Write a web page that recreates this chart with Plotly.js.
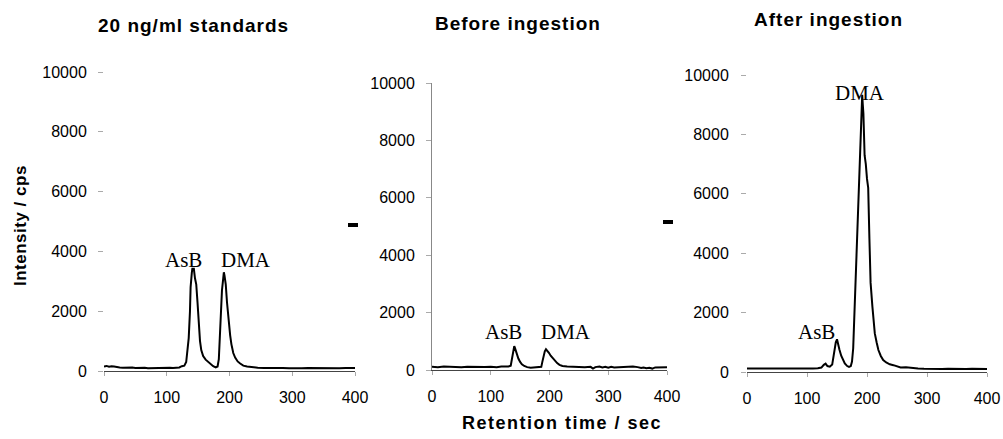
<!DOCTYPE html>
<html>
<head>
<meta charset="utf-8">
<script src="https://cdn.plot.ly/plotly-3.0.1.min.js"></script>
<style>
html,body{margin:0;padding:0;background:#fff;}
#chart{width:1003px;height:439px;}
</style>
</head>
<body>
<div id="chart"></div>
<script>
// Panel titles and labels
const panelTitles = ["20 ng/ml standards", "Before ingestion", "After ingestion"];
const yTitle = "Intensity / cps";
const xTitle = "Retention time / sec";
const xTickVals = [0, 100, 200, 300, 400];
const yTickVals = [0, 2000, 4000, 6000, 8000, 10000];

// Panel 1: 20 ng/ml standards
const time1 = [0,4,8,12,16,20,25,30,35,40,45,50,55,60,65,70,75,80,85,90,95,100,105,110,115,120,124,128,131,133,135,137,138,140,141,142,143,145,147,149,151,153,155,158,162,166,170,174,178,181,183,184,186,188,190,191,192,194,196,198,201,203,206,209,213,217,222,228,235,245,255,265,275,285,295,305,315,325,335,345,355,365,375,385,395,400];
const cps1 = [150,170,140,160,150,130,120,110,115,105,120,100,110,100,105,95,100,105,95,100,100,105,110,100,115,120,160,180,300,800,1100,2000,2800,3300,3450,3350,3450,3100,2900,2300,1600,1000,700,500,380,300,230,160,120,150,400,1000,1800,2700,3100,3300,3200,2900,2300,1800,1200,900,600,450,320,250,180,150,130,110,100,105,95,100,90,105,95,100,95,105,95,100,90,100,95,100];

// Panel 2: before ingestion
const time2 = [0,10,20,30,40,50,60,70,80,90,100,110,118,125,130,134,136,138,140,141,143,145,147,150,153,157,162,168,175,182,186,188,190,192,194,196,199,202,205,209,213,217,222,230,240,250,260,270,274,278,285,290,295,300,305,310,318,325,335,342,350,356,360,365,370,375,380,388,395,400];
const cps2 = [110,100,120,110,120,100,110,100,110,105,110,100,120,110,120,150,400,650,830,780,650,500,400,280,200,140,100,80,85,90,110,300,550,650,720,680,600,500,420,320,240,180,140,120,110,100,95,110,50,100,120,90,110,80,110,90,100,110,100,120,100,70,90,60,80,50,90,100,110,100];

// Panel 3: after ingestion
const time3 = [0,10,20,30,40,50,60,70,80,90,100,110,118,124,128,131,134,138,142,144,146,148,150,152,154,157,160,163,167,170,173,175,177,179,181,183,185,187,189,190,191,192,193,194,196,198,200,202,204,206,209,213,216,219,223,227,232,238,244,250,256,265,275,285,295,305,315,325,335,345,355,365,375,385,395,400];
const cps3 = [120,115,130,120,125,115,120,115,125,115,110,120,130,150,240,280,200,180,250,500,850,1000,1100,900,760,550,400,290,200,170,200,350,800,1900,2800,4100,5500,6700,7700,8100,8800,9330,9000,8700,7300,7000,6500,6200,4500,3000,2200,1300,1000,740,540,400,320,260,230,180,150,160,130,120,110,100,105,100,110,100,105,100,110,100,105,100];

// Peak labels
const peakNames = ["AsB","DMA","AsB","DMA","AsB","DMA"];
const peakPanel = [1,1,2,2,3,3];
const peakTime = [126,226,121,228,115,188];
const peakCps = [3700,3700,1330,1330,1350,9380];

const W = 1003, H = 439;
const px = v => v / W;
const py = v => 1 - v / H;

// plot areas in pixels [left, right, top, bottom]
const boxes = [[104,355,72,371],[432,667,83,370],[747,987,75,372]];

const traces = [
  {x: time1, y: cps1, xaxis:'x', yaxis:'y'},
  {x: time2, y: cps2, xaxis:'x2', yaxis:'y2'},
  {x: time3, y: cps3, xaxis:'x3', yaxis:'y3'}
].map(t => Object.assign(t, {type:'scatter', mode:'lines', line:{color:'#000', width:2}, showlegend:false, hoverinfo:'skip'}));

const tickFont = {family:'Liberation Sans, Arial, sans-serif', size:16, color:'#000'};
const spaced = (t, ls) => '<span style="letter-spacing:' + ls + 'px">' + t + '</span>';

const layout = {
  width: W, height: H,
  margin: {l:0, r:0, t:0, b:0},
  paper_bgcolor:'#fff', plot_bgcolor:'rgba(0,0,0,0)',
  showlegend:false,
  annotations: [],
  shapes: [
    {type:'rect', xref:'paper', yref:'paper', x0:px(348), x1:px(358), y0:py(227), y1:py(223), fillcolor:'#000', line:{width:0}},
    {type:'rect', xref:'paper', yref:'paper', x0:px(663), x1:px(673), y0:py(224), y1:py(220), fillcolor:'#000', line:{width:0}}
  ]
};

boxes.forEach((b, i) => {
  const s = i === 0 ? '' : String(i + 1);
  layout['xaxis' + s] = {
    domain:[px(b[0]), px(b[1])], anchor:'y' + s, range:[0,400],
    tickvals:xTickVals, ticktext:xTickVals.map(String),
    showgrid:false, zeroline:false, showline:true, linecolor:'#444', linewidth:1,
    ticks:'outside', ticklen:4, tickcolor:'#aaa', tickfont:tickFont, ticklabelstandoff:8,
    fixedrange:true
  };
  layout['yaxis' + s] = {
    domain:[py(b[3]), py(b[2])], anchor:'x' + s, range:[0,10000],
    tickvals:yTickVals, ticktext:yTickVals.map(String),
    showgrid:false, zeroline:false, showline: i === 1, linecolor:'#888', linewidth:1,
    ticks:'outside', ticklen:5, tickcolor:'#aaa', tickfont:tickFont, ticklabelstandoff: i === 2 ? 9 : 8,
    fixedrange:true
  };
});

// Panel titles
const titlePos = [[193,25],[518,23],[828,20]];
panelTitles.forEach((t, i) => {
  layout.annotations.push({text:spaced(t, 1), xref:'paper', yref:'paper', x:px(titlePos[i][0]), y:py(titlePos[i][1]),
    xanchor:'center', yanchor:'middle', showarrow:false,
    font:{family:'Liberation Sans, Arial, sans-serif', size:19, color:'#000', weight:'bold'}});
});
// axis titles
layout.annotations.push({text:spaced(yTitle, 0.5), xref:'paper', yref:'paper', x:px(20), y:py(226), textangle:-90,
  xanchor:'center', yanchor:'middle', showarrow:false,
  font:{family:'Liberation Sans, Arial, sans-serif', size:17, color:'#000', weight:'bold'}});
layout.annotations.push({text:spaced(xTitle, 1.5), xref:'paper', yref:'paper', x:px(562), y:py(423),
  xanchor:'center', yanchor:'middle', showarrow:false,
  font:{family:'Liberation Sans, Arial, sans-serif', size:18, color:'#000', weight:'bold'}});

// peak labels
peakNames.forEach((n, i) => {
  const s = peakPanel[i] === 1 ? '' : String(peakPanel[i]);
  layout.annotations.push({text:n, xref:'x' + s, yref:'y' + s, x:peakTime[i], y:peakCps[i],
    xanchor:'center', yanchor:'middle', showarrow:false,
    font:{family:'Liberation Serif, Times New Roman, serif', size:21, color:'#000'}});
});

Plotly.newPlot('chart', traces, layout, {staticPlot:true, displayModeBar:false});
</script>
</body>
</html>
